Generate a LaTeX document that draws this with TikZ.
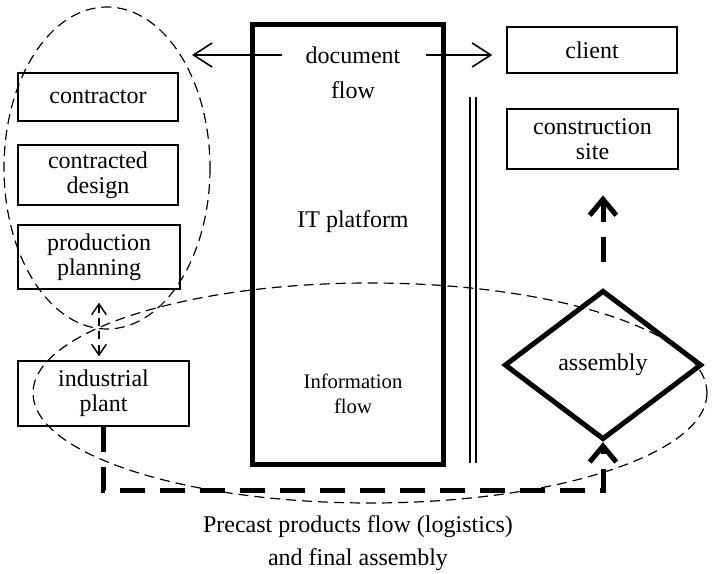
\documentclass[tikz,border=0pt]{standalone}
\usepackage{fontspec}
\setmainfont{Liberation Serif}
\usetikzlibrary{arrows.meta,shapes.geometric}

\begin{document}
\begin{tikzpicture}[x=0.75pt,y=0.75pt,yscale=-1,xscale=1,
  box/.style={draw, line width=1.1pt, align=center, inner sep=0.75pt},
  thickbox/.style={box, line width=1.6pt},
  flowarr/.style={line width=1.2pt, -{Straight Barb[length=14pt,width=18pt]}},
  ringline/.style={line width=0.9pt, dash pattern=on 7.5pt off 4.5pt},
  heavydash/.style={line width=3.75pt, dash pattern=on 19pt off 11pt, -{Straight Barb[length=12pt,width=20pt]}},
  font=\fontsize{18}{19}\selectfont]

\useasboundingbox (0,0) rectangle (719,574);

% IT platform frame and separator
\draw [line width=3.75pt] (252,25) rectangle (443,465);
\draw [double, line width=1pt, double distance=3.5pt] (473,97) -- (473,463);

% groupings
\draw [ringline] (107,168) ellipse [x radius=103, y radius=161];
\draw [ringline] (370,393) ellipse [x radius=337, y radius=110];

% left column
\node [box, minimum width=120pt, minimum height=36pt] (ctr) at (98,97) {contractor};
\node [box, minimum width=120pt, minimum height=45pt] (cd) at (98,175) {contracted\\design};
\node [thickbox, minimum width=121.5pt, minimum height=48pt] (pp) at (99,257) {production\\planning};
\node [box, minimum width=128pt, minimum height=48.75pt] (ip) at (103.5,393.5) {industrial\\plant};

% right column
\node [box, minimum width=127.5pt, minimum height=34.5pt] (cl) at (592,50) {client};
\node [thickbox, minimum width=128pt, minimum height=45pt] (cs) at (592.5,139) {construction\\site};
\node [diamond, draw, line width=3.75pt, minimum width=148pt, minimum height=112pt, inner sep=0pt] (asm) at (603,365) {assembly};

% texts in the platform
\node [inner sep=0.75pt] (docA) at (353,55) {document};
\node [inner sep=0.75pt] (docB) at (353,90) {flow};
\node [inner sep=0.75pt] (itp) at (353,222) {IT platform};
\node [inner sep=0.75pt, align=center, font=\fontsize{15.5}{18.5}\selectfont] (info) at (353,394) {Information\\flow};
\node [inner sep=0.75pt, align=center, font=\fontsize{18}{24.75}\selectfont] (cap) at (358,543) {Precast products flow (logistics)\\and final assembly};

% document flow arrows
\coordinate (ringtip) at (192,57);
\draw [flowarr, shorten <=17pt] (docA.west) -- (docA.west -| ringtip);
\draw [flowarr, shorten <=18pt, shorten >=10.5pt] (docA.east) -- (docA.east -| cl.west);

% planning <-> plant
\draw [line width=1.1pt, dash pattern=on 6pt off 4pt, {Straight Barb[length=8pt,width=11pt]}-{Straight Barb[length=8pt,width=11pt]}, shorten <=9.5pt, shorten >=3pt] (pp.south) -- (pp.south |- ip.north);

% products flow
\draw [heavydash] (ip.south) -- ++(0,64) -| (asm.south);
\draw [heavydash, shorten <=19pt, shorten >=19pt] (asm.north) -- (asm.north |- cs.south);

\end{tikzpicture}
\end{document}
